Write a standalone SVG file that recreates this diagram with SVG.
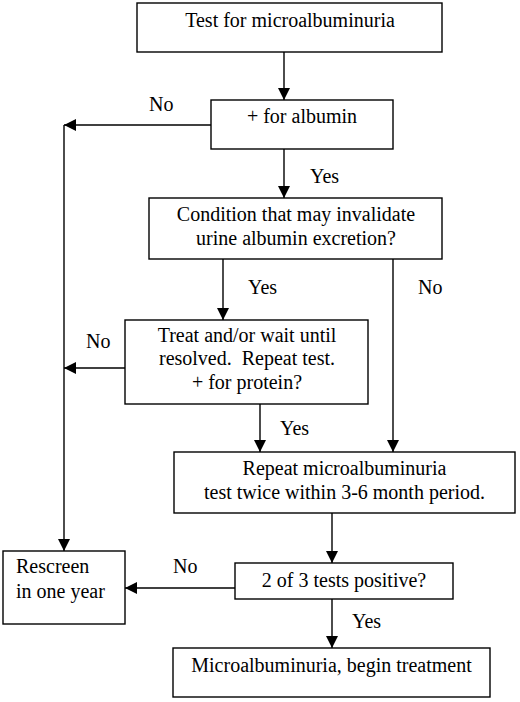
<svg xmlns="http://www.w3.org/2000/svg" width="520" height="702" viewBox="0 0 520 702">
<defs>
<style>
.box{fill:#fff;stroke:#000;stroke-width:1.4}
.ln{fill:none;stroke:#000;stroke-width:1.4}
.t{font-family:"Liberation Serif","Times New Roman",serif;font-size:20px;fill:#000}
.c{text-anchor:middle}
</style>
<marker id="ah" markerUnits="userSpaceOnUse" markerWidth="12" markerHeight="12" refX="12" refY="6" orient="auto" viewBox="0 0 12 12">
<path d="M0,0 L12,6 L0,12 z" fill="#000"/>
</marker>
</defs>
<rect width="520" height="702" fill="#fff"/>
<g id="connectors">
<line class="ln" x1="284" y1="52" x2="284" y2="100" marker-end="url(#ah)"/>
<polyline class="ln" points="211,125 64,125" marker-end="url(#ah)"/>
<line class="ln" x1="64" y1="125" x2="64" y2="551" marker-end="url(#ah)"/>
<line class="ln" x1="284" y1="149" x2="284" y2="198" marker-end="url(#ah)"/>
<line class="ln" x1="223" y1="259" x2="223" y2="320" marker-end="url(#ah)"/>
<line class="ln" x1="393" y1="259" x2="393" y2="452" marker-end="url(#ah)"/>
<line class="ln" x1="125" y1="368" x2="64" y2="368" marker-end="url(#ah)"/>
<line class="ln" x1="260" y1="404" x2="260" y2="452" marker-end="url(#ah)"/>
<line class="ln" x1="332" y1="513" x2="332" y2="563" marker-end="url(#ah)"/>
<line class="ln" x1="235" y1="588" x2="125" y2="588" marker-end="url(#ah)"/>
<line class="ln" x1="332" y1="599" x2="332" y2="648" marker-end="url(#ah)"/>
<text class="t" x="149" y="111">No</text>
<text class="t" x="310" y="183">Yes</text>
<text class="t" x="248" y="294">Yes</text>
<text class="t" x="418" y="294">No</text>
<text class="t" x="86" y="348">No</text>
<text class="t" x="280" y="435">Yes</text>
<text class="t" x="173" y="573">No</text>
<text class="t" x="352" y="628">Yes</text>
</g>
<g id="n1">
<rect class="box" x="137" y="3" width="305" height="49"/>
<text class="t c" x="290" y="27">Test for microalbuminuria</text>
</g>
<g id="n2">
<rect class="box" x="211" y="100" width="182" height="49"/>
<text class="t c" x="302" y="123">+ for albumin</text>
</g>
<g id="n3">
<rect class="box" x="149" y="198" width="293" height="61"/>
<text class="t c" x="296" y="221">Condition that may invalidate</text>
<text class="t c" x="296" y="245">urine albumin excretion?</text>
</g>
<g id="n4">
<rect class="box" x="125" y="320" width="243" height="84"/>
<text class="t c" x="247" y="342">Treat and/or wait until</text>
<text class="t c" x="247" y="365" xml:space="preserve">resolved.  Repeat test.</text>
<text class="t c" x="247" y="389">+ for protein?</text>
</g>
<g id="n5">
<rect class="box" x="174" y="452" width="341" height="61"/>
<text class="t c" x="344.5" y="475">Repeat microalbuminuria</text>
<text class="t c" x="344.5" y="499">test twice within 3-6 month period.</text>
</g>
<g id="n6">
<rect class="box" x="235" y="563" width="218" height="36"/>
<text class="t c" x="344" y="587">2 of 3 tests positive?</text>
</g>
<g id="n7">
<rect class="box" x="3" y="551" width="122" height="73"/>
<text class="t" x="16" y="573">Rescreen</text>
<text class="t" x="16" y="598">in one year</text>
</g>
<g id="n8">
<rect class="box" x="173" y="648" width="317" height="49"/>
<text class="t c" x="331.5" y="672">Microalbuminuria, begin treatment</text>
</g>
</svg>
